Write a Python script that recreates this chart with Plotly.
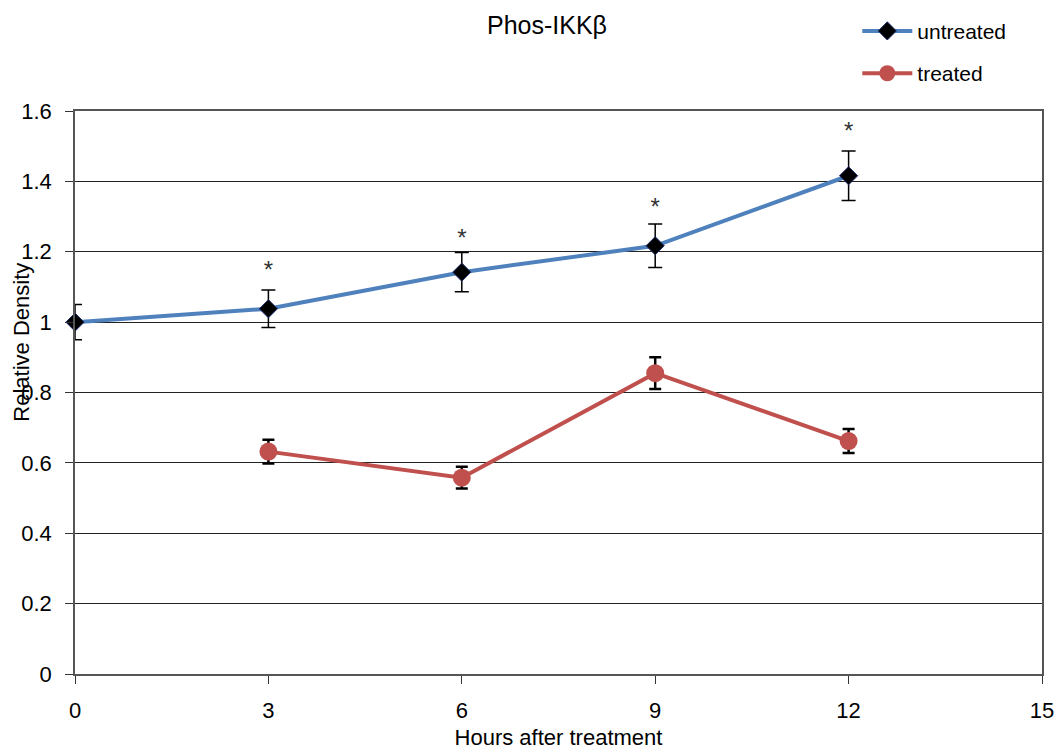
import plotly.graph_objects as go

hours = [0, 3, 6, 9, 12]
untreated = [1.0, 1.038, 1.142, 1.217, 1.416]
untreated_err = [0.05, 0.053, 0.056, 0.062, 0.07]

treated_hours = [3, 6, 9, 12]
treated = [0.632, 0.558, 0.855, 0.662]
treated_err = [0.034, 0.031, 0.045, 0.034]

star_hours = [3, 6, 9, 12]
star_y = [1.142, 1.233, 1.321, 1.537]

x_ticks = [0, 3, 6, 9, 12, 15]
y_ticks = [0, 0.2, 0.4, 0.6, 0.8, 1.0, 1.2, 1.4, 1.6]
y_tick_text = ["0", "0.2", "0.4", "0.6", "0.8", "1", "1.2", "1.4", "1.6"]

FONT = "Liberation Sans, Arial, sans-serif"

fig = go.Figure()
fig.add_trace(go.Scatter(
    x=hours, y=untreated, name="untreated", mode="lines+markers",
    line=dict(color="#4F81BD", width=4),
    marker=dict(symbol="diamond", size=14, color="black", line=dict(color="#1F2F6F", width=1)),
    error_y=dict(type="data", array=untreated_err, color="black", thickness=1.5, width=7),
    legendgroup="u", cliponaxis=False,
))
fig.add_trace(go.Scatter(
    x=treated_hours, y=treated, name="treated", mode="lines+markers",
    line=dict(color="#C0504D", width=4),
    marker=dict(symbol="circle", size=18, color="#C0504D"),
    error_y=dict(type="data", array=treated_err, color="black", thickness=2.5, width=6),
    legendgroup="t", cliponaxis=False,
))
fig.add_trace(go.Scatter(
    x=star_hours, y=star_y, mode="text", text=["*"] * len(star_hours),
    textfont=dict(family=FONT, size=24, color="#333333"), showlegend=False,
    hoverinfo="skip",
))

fig.update_layout(
    width=1055, height=750,
    margin=dict(l=75, r=13, t=111, b=76, autoexpand=False),
    paper_bgcolor="white", plot_bgcolor="white",
    font=dict(family=FONT, color="black", size=22),
    showlegend=True,
    legend=dict(x=0.809, y=1.178, xanchor="left", yanchor="top",
                font=dict(size=21, family=FONT), tracegroupgap=12,
                itemwidth=50, bgcolor="rgba(0,0,0,0)"),
    title=dict(text="Phos-IKKβ", x=547 / 1055, xref="container", xanchor="center",
               y=1 - 25 / 750, yref="container", yanchor="middle",
               font=dict(size=25, family=FONT, color="black")),
    annotations=[dict(text="Relative Density", textangle=-90, xref="paper", yref="paper",
                      x=-0.055, y=0.59, xanchor="center", yanchor="middle",
                      showarrow=False, font=dict(size=22, family=FONT, color="black"))],
)
fig.update_xaxes(
    range=[0, 15], tickvals=x_ticks, ticks="outside", ticklen=8, tickcolor="#333",
    showline=True, linecolor="#555", linewidth=1.5, mirror=True, automargin=False,
    showgrid=False, zeroline=False, ticklabelstandoff=8,
    title=dict(text="Hours after treatment", standoff=11, font=dict(size=22)),
    tickfont=dict(size=22),
)
fig.update_yaxes(
    range=[0, 1.6], tickvals=y_ticks, ticktext=y_tick_text, ticks="outside", ticklen=8,
    tickcolor="#333", showline=True, linecolor="#555", linewidth=1.5, mirror=True,
    showgrid=True, gridcolor="#222", gridwidth=1, zeroline=False, automargin=False,
    ticklabelstandoff=9, tickfont=dict(size=22),
)

fig.write_html("out.html")
